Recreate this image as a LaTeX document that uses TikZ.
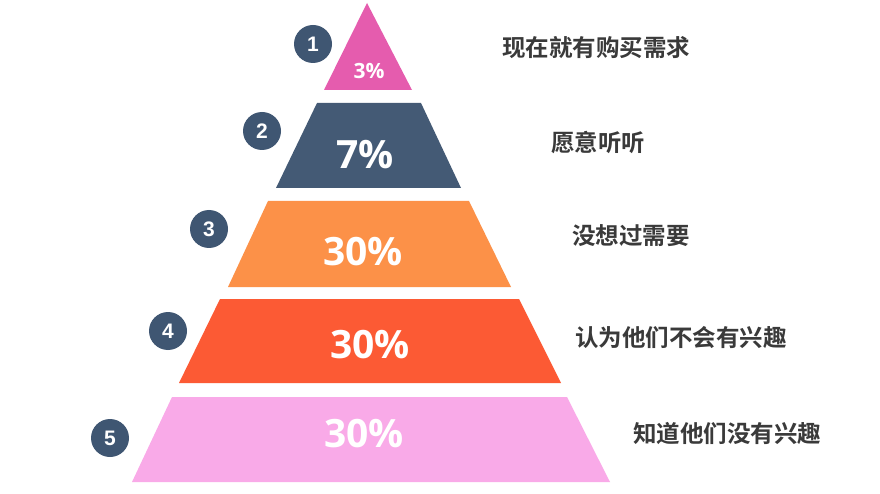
\documentclass[tikz,border=0pt]{standalone}
\usepackage{fontspec}
\setmainfont{Open Sans}
\newfontfamily\cjk{Noto Sans CJK SC}[BoldFont={Noto Sans CJK SC Bold}]
\newfontfamily\numfont{Liberation Sans}
\definecolor{cpink}{HTML}{E55CAE}
\definecolor{cnavy}{HTML}{445A75}
\definecolor{corange}{HTML}{FC9148}
\definecolor{cred}{HTML}{FC5A34}
\definecolor{clight}{HTML}{F9AAE8}
\definecolor{cbadge}{HTML}{3F5672}
\definecolor{ctext}{HTML}{3A3A3A}
\begin{document}
\begin{tikzpicture}[x=1pt,y=-1pt,
  pct/.style={text=white,font=\bfseries\fontsize{39}{39}\selectfont,inner sep=0pt},
  badge/.style={circle,fill=cbadge,minimum size=38pt,inner sep=0pt,text=white,font=\numfont\bfseries\fontsize{21}{21}\selectfont},
  label/.style={anchor=west,inner sep=0pt,text=ctext,font=\cjk\bfseries\fontsize{23.5}{23.5}\selectfont}]
\useasboundingbox (0,0) rectangle (880,494);
\fill[white] (0,0) rectangle (880,494);
% layers
\fill[cpink] (367,3) -- (412,90) -- (324,90) -- cycle;
\fill[cnavy] (317,103) -- (421,103) -- (461,188) -- (276,188) -- cycle;
\fill[corange] (268,201) -- (469,201) -- (511,287) -- (228,287) -- cycle;
\fill[cred] (220,299) -- (519,299) -- (561,383) -- (179,383) -- cycle;
\fill[clight] (172,397) -- (567,397) -- (610,482) -- (132,482) -- cycle;
% percentages
\node[pct,font=\bfseries\fontsize{21}{21}\selectfont] (p1) at (369,71) {3\%};
\node[pct] (p2) at (365,155) {7\%};
\node[pct] (p3) at (363,252) {30\%};
\node[pct] (p4) at (370,345) {30\%};
\node[pct] (p5) at (364,434) {30\%};
% badges
\node[badge] (b1) at (313,44) {1};
\node[badge] (b2) at (262,131) {2};
\node[badge] (b3) at (209,229) {3};
\node[badge] (b4) at (168,331) {4};
\node[badge] (b5) at (110,438) {5};
% labels
\node[label] (t1) at (502,48) {现在就有购买需求};
\node[label] (t2) at (551,143) {愿意听听};
\node[label] (t3) at (572,236) {没想过需要};
\node[label] (t4) at (575,338) {认为他们不会有兴趣};
\node[label] (t5) at (633,434) {知道他们没有兴趣};
\end{tikzpicture}
\end{document}
